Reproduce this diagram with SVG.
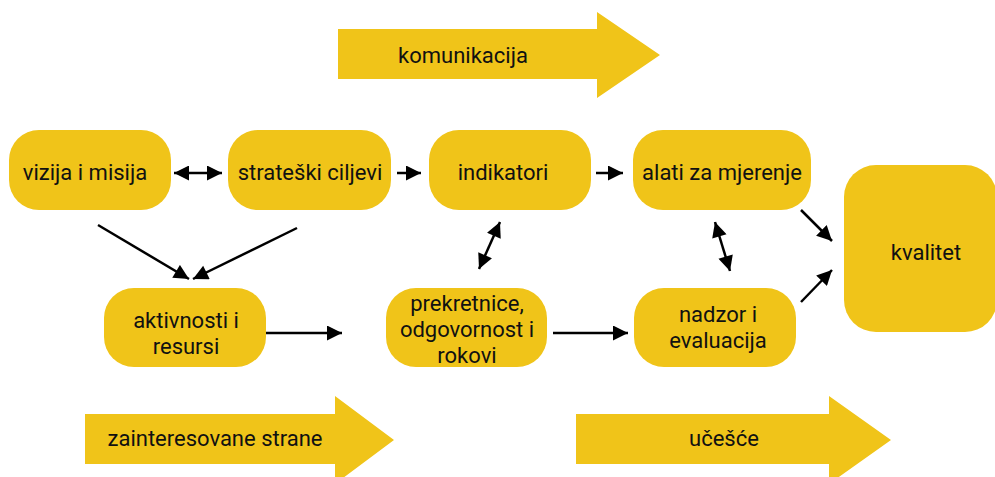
<svg xmlns="http://www.w3.org/2000/svg" width="995" height="477" viewBox="0 0 995 477">
  <defs>
    <marker id="head" viewBox="0 0 10 10" refX="10" refY="5" markerWidth="6.4" markerHeight="6" markerUnits="strokeWidth" orient="auto-start-reverse">
      <path d="M0,0 L10,5 L0,10 Z" fill="#000"/>
    </marker>
    <style>
      .box { fill: #F0C419; }
      .lbl { font-family: Roboto, "Liberation Sans", sans-serif; font-size: 22px; fill: #111; text-anchor: middle; }
      .conn { stroke: #000; stroke-width: 2.5; fill: none; marker-end: url(#head); }
      .both { marker-start: url(#head); }
    </style>
  </defs>

  <!-- big flow arrows -->
  <g id="komunikacija">
    <path class="box" d="M338,29 H597 V12 L660,55 L597,98 V79 H338 Z"/>
    <text class="lbl" x="463" y="63">komunikacija</text>
  </g>
  <g id="zainteresovane">
    <path class="box" d="M85,414 H335 V396 L394,440 L335,484 V464 H85 Z"/>
    <text class="lbl" x="215" y="446">zainteresovane strane</text>
  </g>
  <g id="ucesce">
    <path class="box" d="M576,414 H829 V396 L891,440 L829,484 V464 H576 Z"/>
    <text class="lbl" x="724" y="446">učešće</text>
  </g>

  <!-- process nodes -->
  <g id="vizija">
    <rect class="box" x="9" y="130" width="162" height="80" rx="30"/>
    <text class="lbl" x="85" y="180">vizija i misija</text>
  </g>
  <g id="strateski">
    <rect class="box" x="228" y="130" width="163" height="80" rx="30"/>
    <text class="lbl" x="310" y="180">strateški ciljevi</text>
  </g>
  <g id="indikatori">
    <rect class="box" x="429" y="130" width="162" height="80" rx="30"/>
    <text class="lbl" x="503" y="180">indikatori</text>
  </g>
  <g id="alati">
    <rect class="box" x="633" y="130" width="178" height="80" rx="30"/>
    <text class="lbl" x="722" y="180">alati za mjerenje</text>
  </g>
  <g id="kvalitet">
    <rect class="box" x="844" y="165" width="153" height="167" rx="32"/>
    <text class="lbl" x="926" y="260">kvalitet</text>
  </g>
  <g id="aktivnosti">
    <rect class="box" x="104" y="288" width="162" height="79" rx="30"/>
    <text class="lbl" x="186" y="328">aktivnosti i</text>
    <text class="lbl" x="186" y="354">resursi</text>
  </g>
  <g id="prekretnice">
    <rect class="box" x="386" y="288" width="161" height="79" rx="30"/>
    <text class="lbl" x="467" y="311">prekretnice,</text>
    <text class="lbl" x="467" y="337">odgovornost i</text>
    <text class="lbl" x="467" y="363">rokovi</text>
  </g>
  <g id="nadzor">
    <rect class="box" x="634" y="288" width="162" height="79" rx="30"/>
    <text class="lbl" x="718" y="322">nadzor i</text>
    <text class="lbl" x="718" y="348">evaluacija</text>
  </g>

  <!-- connectors -->
  <g id="connectors">
    <line class="conn both" x1="174" y1="173" x2="222" y2="173"/>
    <line class="conn" x1="397" y1="173" x2="421" y2="173"/>
    <line class="conn" x1="596" y1="173" x2="623" y2="173"/>
    <line class="conn" x1="98" y1="225" x2="189" y2="279"/>
    <line class="conn" x1="297" y1="228" x2="193" y2="279"/>
    <line class="conn both" x1="500" y1="222" x2="479" y2="269"/>
    <line class="conn both" x1="715" y1="222" x2="730" y2="271"/>
    <line class="conn" x1="266" y1="333" x2="342" y2="333"/>
    <line class="conn" x1="553" y1="333" x2="628" y2="333"/>
    <line class="conn" x1="801" y1="210" x2="832" y2="241"/>
    <line class="conn" x1="801" y1="302" x2="832" y2="270"/>
  </g>
</svg>
